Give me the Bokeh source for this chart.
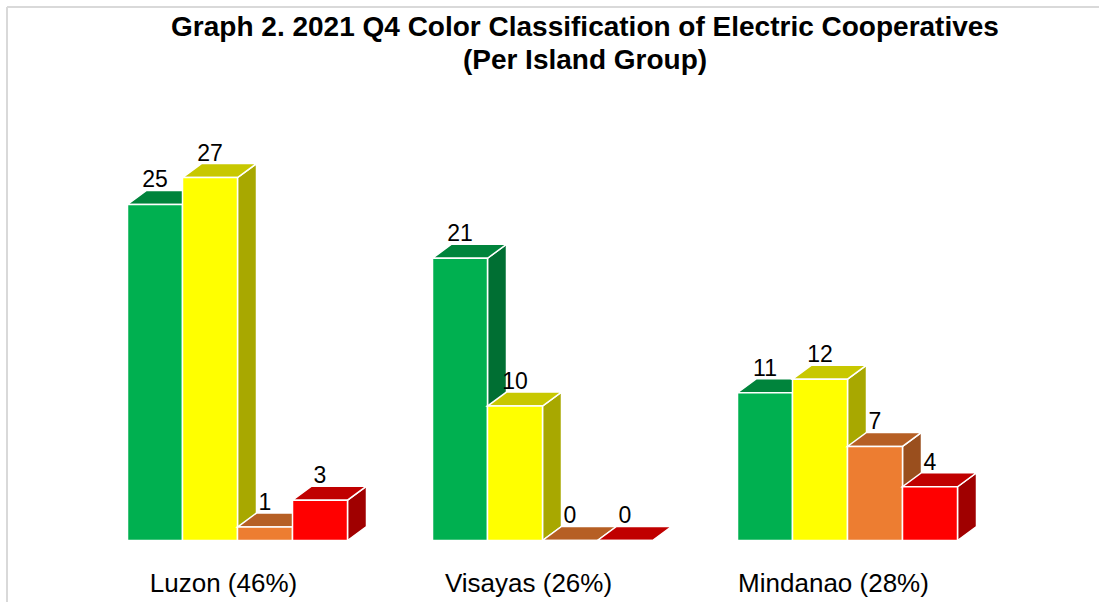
from bokeh.plotting import figure
from bokeh.models import Range1d, ColumnDataSource
from bokeh.core.properties import value
from bokeh.embed import file_html
from bokeh.resources import INLINE

# ---------------- data ----------------
groups = ["Luzon (46%)", "Visayas (26%)", "Mindanao (28%)"]
classes = ["Green", "Yellow", "Orange", "Red"]
green = [25, 21, 11]
yellow = [27, 10, 12]
orange = [1, 0, 7]
red = [3, 0, 4]
title_lines = ["Graph 2. 2021 Q4 Color Classification of Electric Cooperatives",
               "(Per Island Group)"]

series = [green, yellow, orange, red]

# ---------------- styles ----------------
front_colors = ["#00B050", "#FFFF00", "#ED7D31", "#FF0000"]
top_colors = ["#00843C", "#C8C800", "#B65F24", "#C00000"]
side_colors = ["#006F33", "#A8A800", "#9A4F1E", "#A00000"]

W, H = 1099, 602
PX_X = 305.0     # pixels per group step
PX_Y = 13.44     # pixels per unit count
X0 = 127         # px from figure left to first group's left edge
Y0 = H - 540     # px from figure bottom to the baseline
BAR_W = 55 / PX_X
DX = 19 / PX_X
DY = 14 / PX_Y
SHIFT = 0.37     # baseline correction (fraction of font size)


def yd(page_y):
    return (H - page_y - Y0) / PX_Y


def xd(page_x):
    return (page_x - X0) / PX_X


p = figure(width=W, height=H, output_backend="svg", toolbar_location=None,
           x_range=Range1d(-X0 / PX_X, (W - X0) / PX_X),
           y_range=Range1d(-Y0 / PX_Y, (H - Y0) / PX_Y),
           x_axis_location=None, y_axis_location=None, min_border=0,
           tools="")
p.outline_line_color = None
p.xgrid.grid_line_color = None
p.ygrid.grid_line_color = None
p.background_fill_color = "white"
p.border_fill_color = "white"

# frame border (top and left edges visible)
xs0, xs1 = p.x_range.start, p.x_range.end
ys0, ys1 = p.y_range.start, p.y_range.end
p.line([xd(6.5), xd(6.5)], [ys0, yd(6.5)], line_color="#D9D9D9", line_width=2)
p.line([xd(6.5), xs1], [yd(6.5), yd(6.5)], line_color="#D9D9D9", line_width=2)

# ---------------- 3D bars ----------------
pxs, pys, fills = [], [], []
lx, ly, lt = [], [], []
for i, g in enumerate(groups):
    for j, s in enumerate(series):
        v = s[i]
        x0 = i + j * BAR_W
        x1 = x0 + BAR_W
        # side face
        pxs.append([x1, x1 + DX, x1 + DX, x1])
        pys.append([0, DY, v + DY, v])
        fills.append(side_colors[j])
        # top face
        pxs.append([x0, x1, x1 + DX, x0 + DX])
        pys.append([v, v, v + DY, v + DY])
        fills.append(top_colors[j])
        # front face
        pxs.append([x0, x1, x1, x0])
        pys.append([0, 0, v, v])
        fills.append(front_colors[j])
        # value label
        lx.append(x0 + BAR_W / 2)
        ly.append(v + DY + (3 + SHIFT * 23) / PX_Y)
        lt.append(str(v))

src = ColumnDataSource(dict(xs=pxs, ys=pys, fill=fills))
p.patches("xs", "ys", source=src, fill_color="fill", line_color="white",
          line_width=1.5, line_join="miter")

p.text(lx, ly, text=lt, text_font=value("Liberation Sans"), text_font_size="23px",
       text_align="center", text_baseline="alphabetic", text_color="black")

# category labels
cx = [i + 2 * BAR_W - 14 / PX_X for i in range(len(groups))]
cy = [yd(592 - SHIFT * 26)] * len(groups)
p.text(cx, cy, text=groups, text_font=value("Liberation Sans"), text_font_size="26px",
       text_align="center", text_baseline="alphabetic", text_color="black")

# title
tx = [xd(584.5)] * 2
ty = [yd(36.5 - SHIFT * 28), yd(69 - SHIFT * 28)]
p.text(tx, ty, text=title_lines, text_font=value("Liberation Sans"), text_font_size="28px",
       text_font_style="bold", text_align="center", text_baseline="alphabetic",
       text_color="black")

open("out.html", "w").write(file_html(p, INLINE))
